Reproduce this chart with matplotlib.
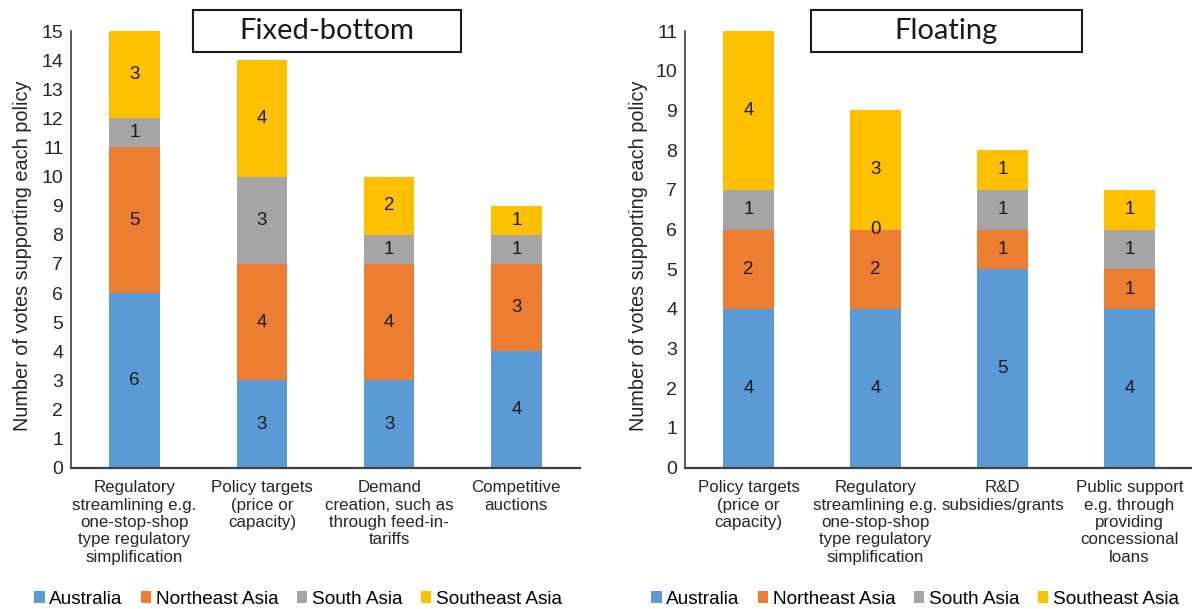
import matplotlib
matplotlib.use("Agg")
import matplotlib.pyplot as plt
from matplotlib.patches import Patch, Rectangle
import numpy as np

plt.rcParams["font.family"] = ["Liberation Sans", "DejaVu Sans"]

regions = ["Australia", "Northeast Asia", "South Asia", "Southeast Asia"]
colors = ["#5B9BD5", "#ED7D31", "#A5A5A5", "#FFC000"]

fixed_title = "Fixed-bottom"
fixed_policies = [
    "Regulatory\nstreamlining e.g.\none-stop-shop\ntype regulatory\nsimplification",
    "Policy targets\n(price or\ncapacity)",
    "Demand\ncreation, such as\nthrough feed-in-\ntariffs",
    "Competitive\nauctions",
]
fixed_australia = [6, 3, 3, 4]
fixed_northeast = [5, 4, 4, 3]
fixed_south = [1, 3, 1, 1]
fixed_southeast = [3, 4, 2, 1]

floating_title = "Floating"
floating_policies = [
    "Policy targets\n(price or\ncapacity)",
    "Regulatory\nstreamlining e.g.\none-stop-shop\ntype regulatory\nsimplification",
    "R&D\nsubsidies/grants",
    "Public support\ne.g. through\nproviding\nconcessional\nloans",
]
floating_australia = [4, 4, 5, 4]
floating_northeast = [2, 2, 1, 1]
floating_south = [1, 0, 1, 1]
floating_southeast = [4, 3, 1, 1]

W, H = 1192, 609
fig = plt.figure(figsize=(W / 100, H / 100), dpi=100)


def panel(rect, title, policies, series, ymax, title_box, label_x):
    ax = fig.add_axes(rect)
    x = np.arange(len(policies))
    bottom = np.zeros(len(policies))
    for vals, col in zip(series, colors):
        vals = np.array(vals, dtype=float)
        ax.bar(x, vals, width=0.395, bottom=bottom, color=col, edgecolor="none", zorder=2)
        for xi, b, v in zip(x, bottom, vals):
            ax.text(xi, b + v / 2, f"{int(v)}", ha="center", va="center",
                    fontsize=13.5, color="#1a1a1a", zorder=3)
        bottom += vals
    ax.set_xlim(-0.5, len(policies) - 0.5)
    ax.set_ylim(0, ymax)
    ax.set_yticks(range(0, ymax + 1))
    ax.set_xticks(x)
    ax.set_xticklabels(policies, fontsize=12.2, color="#262626")
    ax.tick_params(axis="x", length=0, pad=9)
    ax.tick_params(axis="y", length=0, pad=5.5, labelsize=14, labelcolor="#262626")
    for s in ("top", "right"):
        ax.spines[s].set_visible(False)
    ax.spines["left"].set_color("#404040")
    ax.spines["left"].set_linewidth(1.2)
    ax.spines["bottom"].set_color("#404040")
    ax.spines["bottom"].set_linewidth(1.6)
    ax.set_ylabel("Number of votes supporting each policy", fontsize=14.3, color="#262626")
    ax.yaxis.set_label_coords(label_x, 0.485)
    bx, by, bw, bh, tx = title_box
    ax.add_patch(Rectangle((bx, by), bw, bh, transform=ax.transAxes, facecolor="white",
                           edgecolor="#1a1a1a", linewidth=1.5, clip_on=False, zorder=5))
    ax.text(tx, by + bh / 2, title, transform=ax.transAxes, ha="center", va="center",
            fontsize=21, family=["Lato", "DejaVu Sans"], color="#1a1a1a", zorder=6)
    return ax


ax_bottom = (H - 467.7) / H
ax_height = (467.7 - 31) / H

panel([71 / W, ax_bottom, 509 / W, ax_height], fixed_title, fixed_policies,
      [fixed_australia, fixed_northeast, fixed_south, fixed_southeast], 15,
      (0.2397, 0.952, 0.5265, 0.0962, 0.503), -0.0766)
panel([685 / W, ax_bottom, 508 / W, ax_height], floating_title, floating_policies,
      [floating_australia, floating_northeast, floating_south, floating_southeast], 11,
      (0.248, 0.952, 0.533, 0.0962, 0.514), -0.073)

handles = [Patch(facecolor=c, edgecolor="none", label=r) for r, c in zip(regions, colors)]
for cx in (298, 915):
    fig.legend(handles=handles, loc="center", bbox_to_anchor=(cx / W, 10 / H), ncol=4,
               frameon=False, fontsize=13.7, handlelength=0.55, handleheight=0.55,
               handletextpad=0.25, columnspacing=0.95, borderaxespad=0, borderpad=0)

fig.savefig("out.png", dpi=100, facecolor="white")
